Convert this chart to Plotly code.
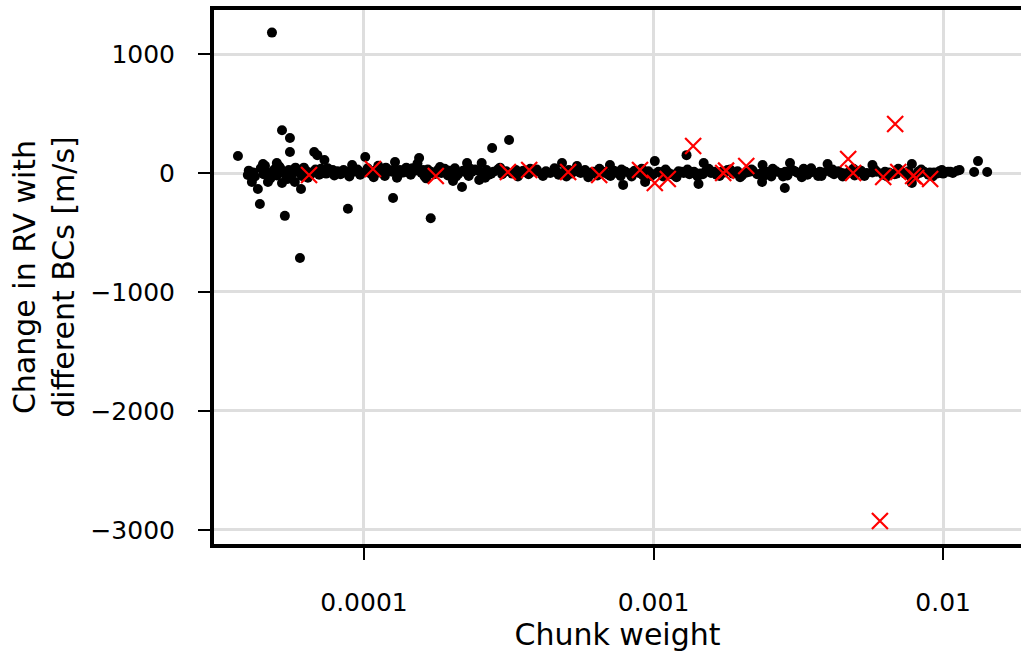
import plotly.graph_objects as go

# Black points: chunk weight vs change in RV [m/s]
black_w = [
    3.67e-5, 3.97e-5, 4.1e-5, 4.3e-5, 4.37e-5, 4.48e-5, 4.66e-5, 4.81e-5, 5.0e-5, 5.21e-5,
    5.21e-5, 5.33e-5, 5.55e-5, 5.55e-5, 5.77e-5, 6.01e-5, 6.06e-5, 6.73e-5, 6.9e-5, 7.3e-5,
    8.8e-5, 9.1e-5, 1.01e-4, 1.26e-4, 1.28e-4, 1.55e-4, 1.70e-4, 2.18e-4, 2.03e-4, 2.5e-4,
    2.27e-4, 2.55e-4, 2.77e-4, 3.17e-4, 4.83e-4, 5.44e-4, 7.07e-4, 7.85e-4, 9.35e-4, 1.01e-3,
    1.30e-3, 1.43e-3, 1.49e-3, 2.37e-3, 2.38e-3, 2.84e-3, 2.96e-3, 3.99e-3, 5.7e-3, 7.8e-3,
    7.8e-3, 1.14e-2, 1.28e-2, 1.32e-2, 1.42e-2,
    4.0e-5, 4.2e-5, 4.4e-5, 4.5e-5, 4.6e-5, 4.75e-5, 4.9e-5, 5.0e-5, 5.1e-5, 5.3e-5,
    5.4e-5, 5.5e-5, 5.65e-5, 5.8e-5, 5.9e-5, 6.1e-5, 6.3e-5, 6.4e-5, 6.6e-5, 6.8e-5,
    7.0e-5, 7.2e-5, 7.4e-5, 7.5e-5, 7.7e-5, 7.9e-5, 8.1e-5, 8.3e-5, 8.5e-5, 8.7e-5,
    8.9e-5, 9.2e-5, 9.5e-5, 9.7e-5, 1.0e-4,
    1.03e-4, 1.06e-4, 1.09e-4, 1.12e-4, 1.15e-4, 1.18e-4, 1.21e-4, 1.25e-4, 1.3e-4, 1.33e-4,
    1.37e-4, 1.4e-4, 1.45e-4, 1.5e-4, 1.53e-4, 1.58e-4, 1.62e-4, 1.66e-4, 1.7e-4, 1.75e-4,
    1.8e-4, 1.85e-4, 1.9e-4, 1.95e-4, 2.0e-4, 2.06e-4, 2.12e-4, 2.2e-4, 2.3e-4, 2.36e-4,
    2.42e-4, 2.6e-4, 2.65e-4, 2.7e-4, 2.8e-4, 2.9e-4, 3.0e-4,
    3.1e-4, 3.25e-4, 3.35e-4, 3.45e-4, 3.55e-4, 3.7e-4, 3.8e-4, 3.95e-4, 4.1e-4, 4.25e-4,
    4.4e-4, 4.6e-4, 4.7e-4, 4.95e-4, 5.2e-4, 5.35e-4, 5.6e-4, 5.8e-4, 6.0e-4, 6.2e-4,
    6.4e-4, 6.6e-4, 6.8e-4, 7.0e-4, 7.3e-4, 7.5e-4, 7.7e-4, 8.0e-4, 8.3e-4, 8.6e-4,
    8.9e-4, 9.2e-4, 9.6e-4, 1.0e-3, 1.04e-3, 1.08e-3, 1.12e-3, 1.17e-3, 1.22e-3, 1.27e-3,
    1.33e-3, 1.38e-3, 1.45e-3, 1.52e-3, 1.58e-3, 1.65e-3, 1.72e-3, 1.8e-3, 1.88e-3, 1.95e-3,
    2.02e-3, 2.1e-3, 2.2e-3, 2.28e-3, 2.45e-3, 2.55e-3, 2.65e-3, 2.75e-3, 2.9e-3, 3.05e-3,
    3.15e-3, 3.3e-3, 3.4e-3, 3.55e-3, 3.7e-3, 3.85e-3, 4.05e-3, 4.2e-3, 4.35e-3, 4.55e-3,
    4.75e-3, 4.95e-3, 5.2e-3, 5.45e-3, 5.9e-3, 6.2e-3, 6.5e-3, 6.8e-3, 7.1e-3, 7.4e-3,
    7.6e-3, 8.0e-3, 8.3e-3, 8.6e-3, 8.9e-3, 9.3e-3, 9.7e-3, 1.0e-2, 1.04e-2, 1.08e-2,
    1.12e-2,
    4.15e-5, 4.55e-5, 4.85e-5, 5.15e-5, 5.45e-5, 5.75e-5, 6.2e-5, 6.55e-5, 7.1e-5, 7.8e-5,
    8.4e-5, 9.0e-5, 1.1e-4, 1.27e-4, 1.43e-4, 1.6e-4, 1.78e-4, 1.98e-4, 2.25e-4, 2.5e-4,
    2.75e-4, 3.05e-4, 3.3e-4, 3.6e-4, 3.9e-4, 4.3e-4, 4.8e-4, 5.1e-4, 5.5e-4, 6.1e-4,
    6.7e-4, 7.2e-4, 7.9e-4, 8.5e-4, 9.4e-4, 1.06e-3, 1.15e-3, 1.25e-3, 1.36e-3, 1.48e-3,
    1.62e-3, 1.76e-3, 1.92e-3, 2.15e-3, 2.35e-3, 2.6e-3, 2.85e-3, 3.1e-3, 3.45e-3, 3.75e-3,
    4.1e-3, 4.45e-3, 4.85e-3, 5.3e-3, 5.7e-3, 6.3e-3, 6.9e-3, 7.5e-3, 8.2e-3, 9.0e-3,
    9.5e-3, 1.06e-2,
    1.08e-4, 1.19e-4, 1.31e-4, 1.47e-4, 1.64e-4, 1.83e-4, 2.08e-4, 2.33e-4, 2.62e-4, 2.95e-4,
    3.4e-4, 3.75e-4, 4.15e-4, 4.55e-4, 5.0e-4, 5.45e-4, 5.95e-4, 6.5e-4, 7.1e-4, 7.75e-4,
    8.4e-4, 9.1e-4, 9.8e-4, 1.1e-3, 1.2e-3, 1.31e-3, 1.42e-3, 1.55e-3, 1.69e-3, 1.84e-3,
    1.99e-3, 2.18e-3, 2.4e-3, 2.58e-3, 2.8e-3, 3.0e-3, 3.25e-3, 3.5e-3, 3.8e-3, 4.15e-3,
    4.5e-3, 4.9e-3, 5.35e-3, 5.8e-3, 6.4e-3, 7.0e-3, 7.7e-3, 8.4e-3, 9.2e-3, 9.9e-3,
]
black_rv = [
    143, -17, -76, -134, -260, 76, -76, 1180, 84, 360,
    -84, -360, 294, 176, -76, -714, -134, 176, 150, 109,
    -300, 67, 134, -210, 92, 126, -380, -118, -67, -59,
    84, 84, 210, 277, 84, 59, 67, -100, -76, 100,
    150, -92, 84, -76, 67, -126, 84, 76, 67, 76,
    -84, 25, 8, 100, 8,
    20, -30, 40, -10, 10, -45, 30, -20, 55, 0,
    -35, 25, -10, 45, 10, -25, 20, -40, 5, 30,
    -15, 20, -5, 40, 10, -20, 15, -10, 25, 0,
    -30, 10, 30, -15, 5,
    40, -10, 20, 60, 0, -25, 30, 10, -40, 25,
    5, 45, -15, 20, 80, 0, -30, 30, 10, -10,
    25, 0, 35, -20, 15, 40, -5, 20, -25, 10,
    30, 0, 25, -15, 10, 30, -10,
    15, -5, 25, 0, 20, -10, 10, 30, -5, 15,
    0, 20, -15, 10, -5, 15, 0, 25, -10, 10,
    -20, 15, 0, -15, 20, 5, -25, 10, -5, 20,
    0, -20, 15, -10, 10, -30, 5, -15, 15, 0,
    -10, 10, -5, 20, 0, -15, 10, 25, -5, 15,
    -20, 5, 20, -10, 10, -30, 15, 0, -20, 20,
    0, 35, -15, 10, -25, 5, 25, -10, 15, -5,
    10, -20, 20, 0, 10, -15, 5, -10, 20, -5,
    15, -25, 0, 10, -15, 5, 15, -5, 10, 0,
    20,
    5, 60, -20, 35, -50, 15, 45, -10, 35, 25,
    5, 20, 15, 30, 5, 25, 10, 20, 5, 15,
    -5, 10, 5, 10, 15, 5, -5, 25, 10, 5,
    10, -5, 15, 5, 10, 5, -10, 10, 5, -10,
    10, 5, 0, 10, -5, 5, 10, 10, 0, 10,
    5, 0, 10, -5, 5, 10, -5, 5, 10, 5,
    -5, 10,
    -35, 45, -20, 40, -45, 50, -30, 35, -40, 45,
    -30, 35, -25, 40, -30, 30, -35, 35, -25, 30,
    -30, 35, -25, 30, -35, 30, -30, 35, -25, 30,
    -35, 30, -25, 35, -30, 30, -35, 40, -25, 30,
    -30, 35, -25, 30, -30, 35, -25, 30, -30, 25,
]

# Red crosses
red_w = [
    6.46e-5, 1.074e-4, 1.77e-4, 3.14e-4, 3.72e-4, 5.07e-4, 6.49e-4, 8.98e-4, 1.01e-3, 1.12e-3,
    1.37e-3, 1.74e-3, 1.78e-3, 2.09e-3, 4.70e-3, 4.89e-3, 6.21e-3, 6.83e-3, 7.0e-3, 7.88e-3,
    8.07e-3, 9.02e-3, 6.05e-3,
]
red_rv = [
    -17, 34, -25, 8, 25, 8, -17, 25, -84, -50,
    227, 0, 20, 59, 118, 0, -34, 412, 8, -25,
    -42, -50, -2924,
]

x_tickvals = [1e-4, 1e-3, 1e-2]
x_ticktext = ["0.0001", "0.001", "0.01"]
y_tickvals = [-3000, -2000, -1000, 0, 1000]

fig = go.Figure()
fig.add_trace(go.Scatter(
    x=black_w, y=black_rv, mode="markers",
    marker=dict(color="black", size=10, line=dict(width=0)),
    showlegend=False,
))
fig.add_trace(go.Scatter(
    x=red_w, y=red_rv, mode="markers",
    marker=dict(symbol="x-thin-open", color="red", size=16, line=dict(color="red", width=2.2)),
    showlegend=False,
))

font_family = "DejaVu Sans"
fig.update_layout(
    width=1021, height=656,
    margin=dict(l=214, r=0, t=10, b=112),
    paper_bgcolor="white", plot_bgcolor="white",
    font=dict(family=font_family, color="black"),
    showlegend=False,
)
fig.update_xaxes(
    type="log", range=[-4.518, -1.731], automargin=False,
    tickvals=x_tickvals, ticktext=x_ticktext,
    tickfont=dict(size=25), ticks="outside", ticklen=12, tickwidth=2, tickcolor="black",
    ticklabelstandoff=21,
    showgrid=True, gridcolor="#dedede", gridwidth=3,
    showline=True, linecolor="black", linewidth=4, mirror=True,
    zeroline=False,
    title=dict(text="Chunk weight", font=dict(size=30), standoff=2),
)
fig.update_yaxes(
    range=[-3118, 1370], automargin=False,
    tickvals=y_tickvals,
    tickfont=dict(size=25), ticks="outside", ticklen=12, tickwidth=2, tickcolor="black",
    ticklabelstandoff=18,
    showgrid=True, gridcolor="#dedede", gridwidth=3,
    showline=True, linecolor="black", linewidth=4, mirror=False,
    zeroline=False,
    title=dict(text="Change in RV with<br>different BCs [m/s]", font=dict(size=30), standoff=8),
)

fig.write_html("out.html", config={"displayModeBar": False},
               post_script="document.body.style.margin='0';")
